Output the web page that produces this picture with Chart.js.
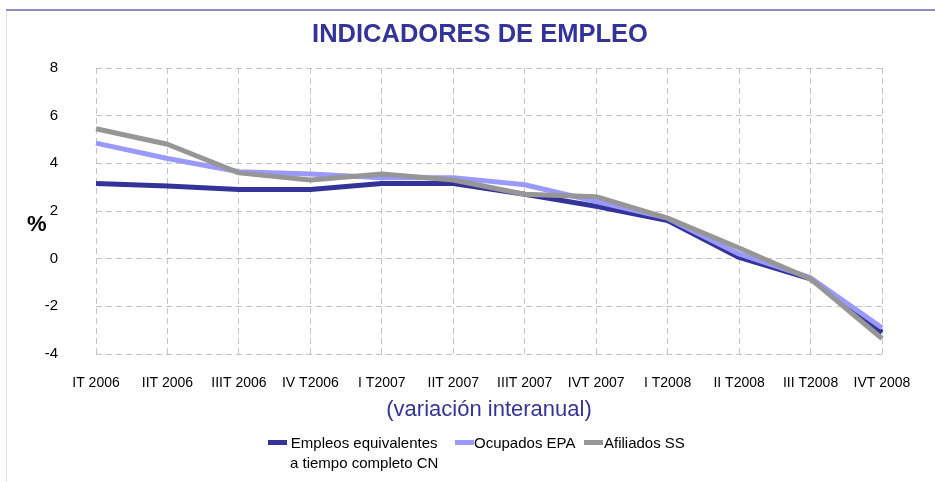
<!DOCTYPE html>
<html>
<head>
<meta charset="utf-8">
<script src="https://cdn.jsdelivr.net/npm/chart.js@4/dist/chart.umd.min.js"></script>
<style>
  html, body { margin: 0; padding: 0; background: #fff; }
  #wrap { position: relative; width: 935px; height: 482px; overflow: hidden; font-family: 'Liberation Sans', Arial, sans-serif; }
  #chart { position: absolute; left: 0; top: 0; }
  .frame-top { position: absolute; left: 6px; top: 9px; width: 929px; height: 2px; background: #8c8cc4; }
  .frame-left { position: absolute; left: 6px; top: 11px; width: 1px; height: 471px; background: #e2e2e2; }
  .title { position: absolute; left: 280px; width: 400px; top: 18px; text-align: center; font-size: 25.5px; line-height: 30px; font-weight: bold; color: #333399; }
  .pct { position: absolute; left: 27px; top: 211px; font-size: 22px; font-weight: bold; color: #000; }
  .leg { position: absolute; font-size: 15px; line-height: 20px; color: #000; }
  .mk { position: absolute; width: 19px; height: 5px; }
</style>
</head>
<body>
<div id="wrap">
  <canvas id="chart" width="935" height="482"></canvas>
  <div class="frame-top"></div>
  <div class="frame-left"></div>
  <div class="title">INDICADORES DE EMPLEO</div>
  <div class="pct">%</div>
  <div id="legend"></div>
</div>
<script>
// Trimestres
const labels = ['IT 2006', 'IIT 2006', 'IIIT 2006', 'IV T2006', 'I T2007', 'IIT 2007',
  'IIIT 2007', 'IVT 2007', 'I T2008', 'II T2008', 'III T2008', 'IVT 2008'];

// Variación interanual (%)
const empleosCN = [3.15, 3.05, 2.9, 2.9, 3.15, 3.15, 2.7, 2.2, 1.6, 0.05, -0.85, -3.1];
const ocupadosEPA = [4.85, 4.2, 3.65, 3.55, 3.4, 3.4, 3.1, 2.4, 1.7, 0.2, -0.8, -2.9];
const afiliadosSS = [5.45, 4.8, 3.6, 3.3, 3.55, 3.3, 2.7, 2.6, 1.7, 0.45, -0.85, -3.35];

const legendNames = [['Empleos equivalentes', 'a tiempo completo CN'], ['Ocupados EPA'], ['Afiliados SS']];

const colors = { dark: '#333399', light: '#9999ff', gray: '#969696', grid: '#c4c4c4' };
const font = "'Liberation Sans', Arial, sans-serif";

function line(data, color, order) {
  return {
    data,
    borderColor: color,
    backgroundColor: color,
    borderWidth: 5,
    pointRadius: 0,
    tension: 0,
    borderJoinStyle: 'round',
    order,
  };
}

new Chart(document.getElementById('chart'), {
  type: 'line',
  data: {
    labels,
    datasets: [
      line(empleosCN, colors.dark, 2),
      line(ocupadosEPA, colors.light, 1),
      line(afiliadosSS, colors.gray, 0),
    ],
  },
  options: {
    responsive: false,
    animation: false,
    devicePixelRatio: 1,
    layout: { padding: { left: 0, right: 53, top: 68, bottom: 0 } },
    plugins: {
      legend: { display: false },
      tooltip: { enabled: false },
    },
    scales: {
      x: {
        offset: false,
        grid: { color: colors.grid, drawTicks: false },
        border: { display: false, dash: [6, 4] },
        ticks: { color: '#000', font: { family: font, size: 14 }, padding: 21, maxRotation: 0, autoSkip: false },
        title: {
          display: true,
          text: '(variación interanual)',
          color: colors.dark,
          font: { family: font, size: 22 },
          padding: { top: 0, bottom: 59 },
        },
        afterFit: (s) => { s.height = 128; },
      },
      y: {
        min: -4,
        max: 8,
        ticks: { stepSize: 2, color: '#000', font: { family: font, size: 15 }, padding: 38 },
        grid: { color: colors.grid, drawTicks: false },
        border: { display: false, dash: [6, 4] },
        afterFit: (s) => { s.width = 96; },
      },
    },
  },
});

// Leyenda
const legendItems = [
  { color: colors.dark, mx: 268, tx: 290 },
  { color: colors.light, mx: 455, tx: 474 },
  { color: colors.gray, mx: 584, tx: 604 },
];
const legendEl = document.getElementById('legend');
legendItems.forEach((it, i) => {
  const mk = document.createElement('div');
  mk.className = 'mk';
  mk.style.left = it.mx + 'px';
  mk.style.top = '440px';
  mk.style.background = it.color;
  legendEl.appendChild(mk);
  const tx = document.createElement('div');
  tx.className = 'leg';
  tx.style.left = it.tx + 'px';
  tx.style.top = '433px';
  tx.style.textAlign = 'center';
  tx.innerHTML = legendNames[i].join('<br>');
  legendEl.appendChild(tx);
});
</script>
</body>
</html>
